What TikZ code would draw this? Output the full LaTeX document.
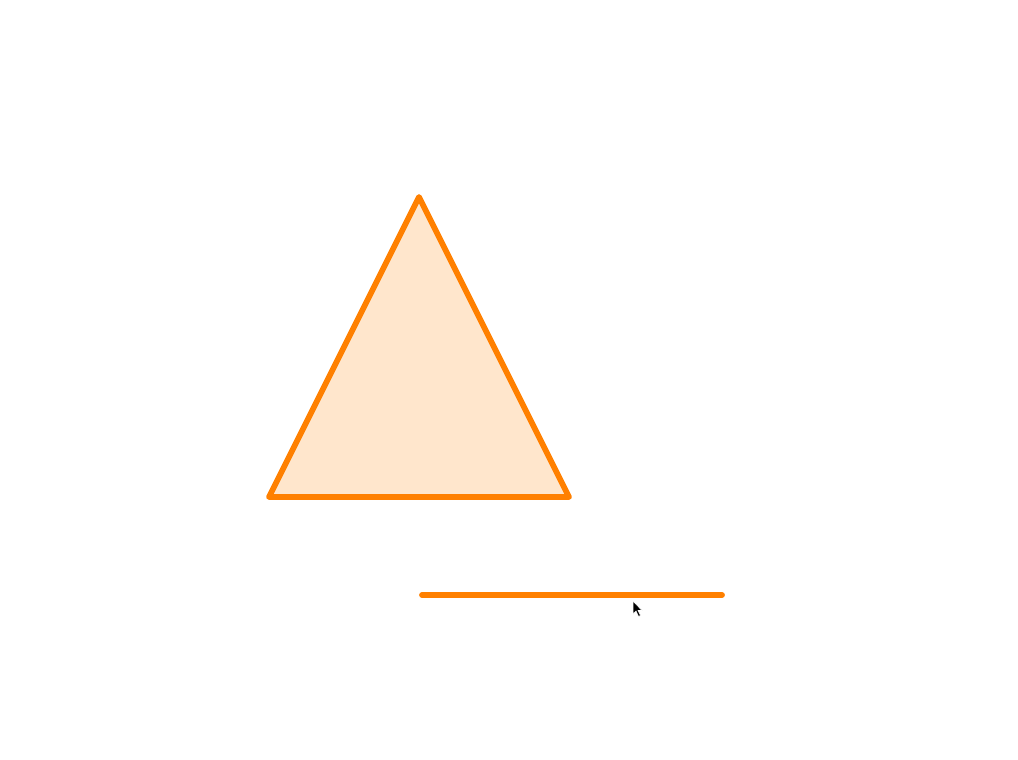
\documentclass[tikz,border=0pt]{standalone}
\definecolor{orng}{HTML}{FF8000}
\definecolor{orfill}{HTML}{FFE6CC}
\tikzset{
  shapeline/.style={draw=orng, line width=5.8pt, line join=round, line cap=round},
  cursor/.style={fill=black, draw=white, line width=0.6pt}
}
\begin{document}
\begin{tikzpicture}[x=1pt,y=-1pt]
\useasboundingbox[fill=white] (0,0) rectangle (1018,760);
\coordinate (apex) at (419,197);
\coordinate (bl) at (269,497);
\coordinate (br) at (569,497);
\filldraw[shapeline, fill=orfill] (apex) -- (br) -- (bl) -- cycle;
\coordinate (la) at (422,595);
\coordinate (lb) at (722,595);
\draw[shapeline] (la) -- (lb);
\fill[cursor] (633,601) -- (633,614) -- (636,611) -- (638.5,616.5) -- (640.5,615.5) -- (638,610.5) -- (642,610.5) -- cycle;
\end{tikzpicture}
\end{document}
